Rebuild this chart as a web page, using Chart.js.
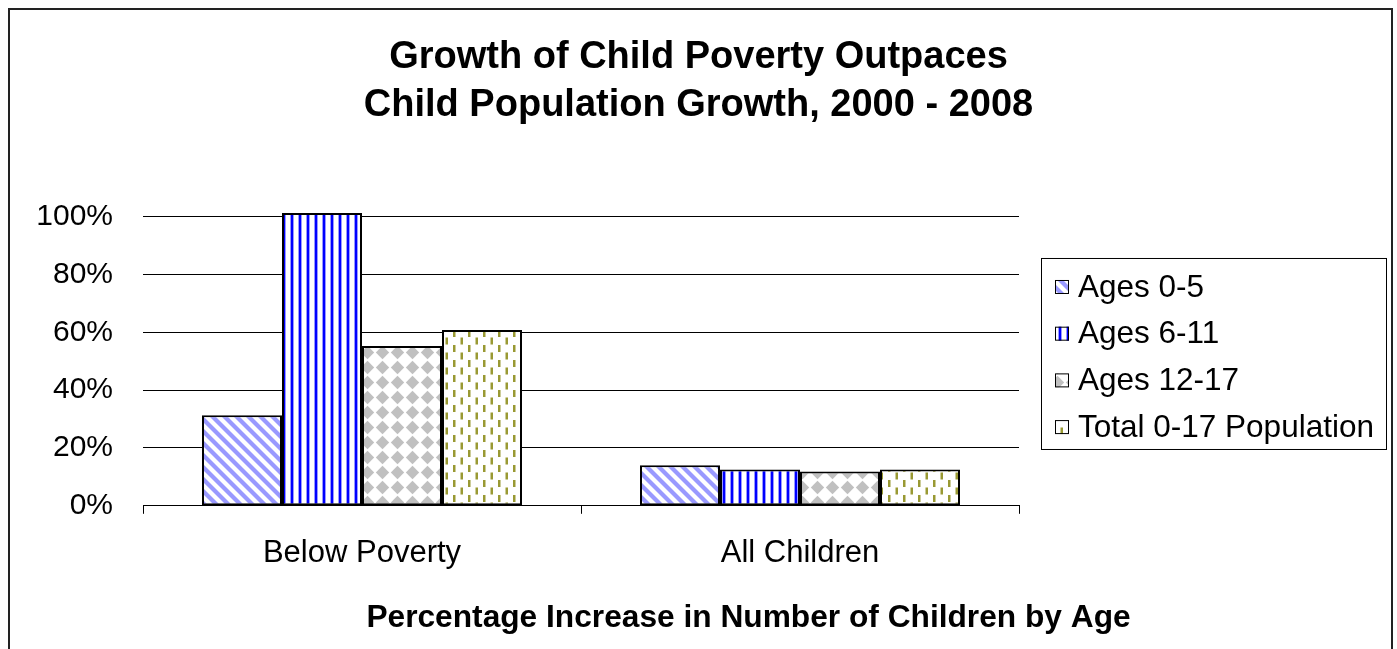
<!DOCTYPE html>
<html>
<head>
<meta charset="utf-8">
<script src="https://cdn.jsdelivr.net/npm/chart.js@4/dist/chart.umd.min.js"></script>
<style>
  body { margin: 0; background: #fff; }
</style>
</head>
<body>
<canvas id="povertyChart" width="1397" height="649"></canvas>
<script>
// values (percent increase 2000 - 2008)
const categories = ['Below Poverty', 'All Children'];
const seriesNames = ['Ages 0-5', 'Ages 6-11', 'Ages 12-17', 'Total 0-17 Population'];
const ages0to5 = [31.3, 14.0];
const ages6to11 = [101.3, 12.6];
const ages12to17 = [55.3, 11.9];
const total0to17 = [60.8, 12.6];
const yTicks = [0, 20, 40, 60, 80, 100];

const FONT = '"Liberation Sans", Arial, sans-serif';
Chart.defaults.font.family = FONT;
Chart.defaults.color = '#000';

/*********************************************/
// fill patterns, like the old excel hatches
function makePattern(w, h, draw) {
  const tile = document.createElement('canvas');
  tile.width = w;
  tile.height = h;
  const c = tile.getContext('2d');
  c.fillStyle = '#fff';
  c.fillRect(0, 0, w, h);
  draw(c);
  return c.createPattern(tile, 'repeat');
}

// "\" stripes, lavender
const diagPattern = makePattern(12, 12, c => {
  c.strokeStyle = '#9999ff';
  c.lineWidth = 4.2;
  for (let k = -12; k <= 12; k += 12) {
    c.beginPath();
    c.moveTo(k - 2, -2);
    c.lineTo(k + 14, 14);
    c.stroke();
  }
});

// thin vertical blue lines
const vertPattern = makePattern(8, 4, c => {
  c.fillStyle = '#9999ff';
  c.fillRect(2, 0, 4, 4);
  c.fillStyle = '#0000ff';
  c.fillRect(3, 0, 2, 4);
});

// grey diamonds
const diamondPattern = makePattern(15, 15, c => {
  c.fillStyle = '#c0c0c0';
  c.beginPath();
  c.moveTo(7.5, 0.8);
  c.lineTo(14.2, 7.5);
  c.lineTo(7.5, 14.2);
  c.lineTo(0.8, 7.5);
  c.closePath();
  c.fill();
});

// olive dashes, alternating columns
const dashPattern = makePattern(15, 15, c => {
  c.fillStyle = '#999933';
  c.fillRect(3, 0, 2.5, 7);
  c.fillRect(10.5, 7.5, 2.5, 7);
});

const fills = [diagPattern, vertPattern, diamondPattern, dashPattern];

/*********************************************/

const frameAndText = {
  id: 'frameAndText',
  beforeDraw(chart) {
    const ctx = chart.ctx;
    ctx.save();
    ctx.fillStyle = '#fff';
    ctx.fillRect(0, 0, chart.width, chart.height);
    ctx.strokeStyle = '#222';
    ctx.lineWidth = 2;
    ctx.strokeRect(9, 9, chart.width - 14, chart.height + 20);
    ctx.restore();
  },
  afterDraw(chart) {
    const ctx = chart.ctx;
    const area = chart.chartArea;
    ctx.save();

    // axis title
    ctx.fillStyle = '#000';
    ctx.font = 'bold 31.7px ' + FONT;
    ctx.textAlign = 'center';
    ctx.textBaseline = 'middle';
    ctx.fillText('Percentage Increase in Number of Children by Age', chart.width / 2 + 50, 618);

    // legend box
    const left = area.right + 22;
    const top = area.top + 47;
    const w = 345;
    const h = 191;
    ctx.strokeStyle = '#000';
    ctx.lineWidth = 1;
    ctx.strokeRect(left + 0.5, top + 0.5, w, h);

    ctx.font = '31.5px ' + FONT;
    ctx.textAlign = 'left';
    chart.data.datasets.forEach((ds, i) => {
      const cy = top + 29 + i * 46.7;
      ctx.fillStyle = ds.backgroundColor;
      ctx.fillRect(left + 14, cy - 7, 14, 14);
      ctx.strokeStyle = '#000';
      ctx.strokeRect(left + 14.5, cy - 6.5, 13, 13);
      ctx.fillStyle = '#000';
      ctx.fillText(ds.label, left + 37, cy + 1);
    });
    ctx.restore();
  }
};

function povertyChart() {
  const data = {
    labels: categories,
    datasets: [ages0to5, ages6to11, ages12to17, total0to17].map((vals, i) => ({
      label: seriesNames[i],
      data: vals,
      backgroundColor: fills[i],
      borderColor: '#000',
      borderWidth: 2,
      borderSkipped: false,
      barPercentage: 1,
      categoryPercentage: 0.7306
    }))
  };

  const options = {
    responsive: false,
    animation: false,
    layout: {
      padding: { left: 0, right: 0, top: 0, bottom: 56 }
    },
    scales: {
      x: {
        offset: true,
        grid: {
          offset: true,
          drawOnChartArea: false,
          drawTicks: true,
          tickLength: 8,
          color: '#000'
        },
        border: { display: true, color: '#000', width: 1 },
        ticks: {
          padding: 21,
          font: { size: 31 }
        }
      },
      y: {
        min: 0,
        max: 102,
        afterBuildTicks: (scale) => {
          scale.ticks = yTicks.map(v => ({ value: v }));
        },
        afterFit: (scale) => {
          scale.width = 143;
        },
        grid: { color: '#000', drawTicks: false },
        border: { display: false },
        ticks: {
          padding: 30,
          font: { size: 30 },
          callback: (v) => v + '%'
        }
      },
      // empty axis that only keeps room for the legend on the right
      legendRoom: {
        position: 'right',
        display: true,
        grid: { display: false },
        border: { display: false },
        ticks: { display: false },
        afterFit: (scale) => {
          scale.width = 378;
        }
      }
    },
    plugins: {
      legend: { display: false },
      tooltip: { enabled: false },
      title: {
        display: true,
        text: ['Growth of Child Poverty Outpaces', 'Child Population Growth, 2000 - 2008'],
        font: { size: 38, weight: 'bold', lineHeight: 1.263 },
        padding: { top: 34, bottom: 81 }
      }
    }
  };

  const config = {
    type: 'bar',
    data,
    options,
    plugins: [frameAndText]
  };

  const chart = new Chart(
    document.getElementById('povertyChart'),
    config
  );
}

povertyChart();
</script>
</body>
</html>
